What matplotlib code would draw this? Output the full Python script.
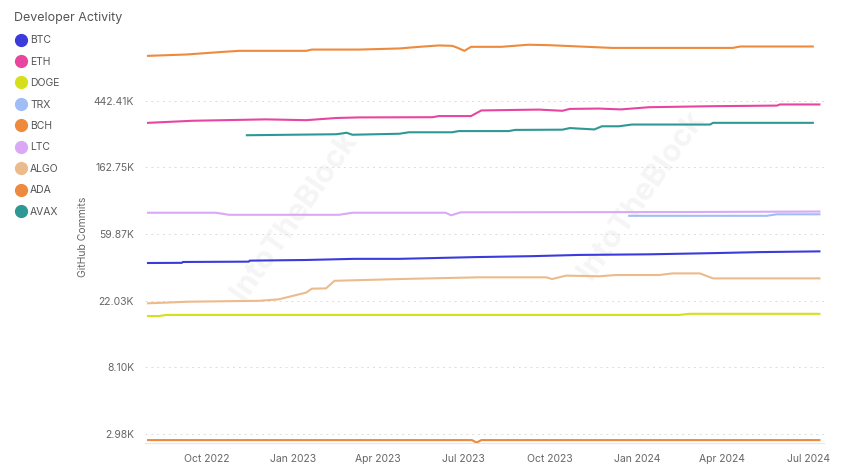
import numpy as np
import pandas as pd
import matplotlib
matplotlib.use("Agg")
from matplotlib import pyplot as plt
import matplotlib.dates as mdates
from matplotlib.lines import Line2D

plt.rcParams['font.family'] = ['Inter', 'DejaVu Sans']

#%% Data (GitHub commits)
btc_dates = ['2022-07-31', '2022-09-05', '2022-09-06', '2022-11-15', '2022-11-16', '2023-01-15',
             '2023-03-07', '2023-04-24', '2023-07-14', '2023-09-12', '2023-11-01', '2024-01-14',
             '2024-03-22', '2024-05-11', '2024-07-13']
btc_vals = [38.8e3, 38.9e3, 39.4e3, 39.6e3, 40.2e3, 40.6e3, 41.3e3, 41.3e3, 42.4e3, 43.0e3,
            43.8e3, 44.2e3, 45.0e3, 45.7e3, 46.2e3]

eth_dates = ['2022-07-31', '2022-09-16', '2022-12-03', '2023-01-15', '2023-02-16', '2023-03-12',
             '2023-05-29', '2023-06-05', '2023-07-09', '2023-07-20', '2023-09-19', '2023-10-14',
             '2023-10-22', '2023-11-22', '2023-12-15', '2024-01-14', '2024-03-19', '2024-05-29',
             '2024-06-01', '2024-07-13']
eth_vals = [318e3, 328e3, 335e3, 331e3, 342e3, 345e3, 346e3, 352e3, 352e3, 383e3, 388e3,
            381e3, 392e3, 394e3, 389e3, 402e3, 408e3, 412e3, 419e3, 419e3]

doge_dates = ['2022-07-31', '2022-08-12', '2022-08-19', '2024-02-15', '2024-02-26', '2024-07-13']
doge_vals = [17.5e3, 17.5e3, 17.8e3, 17.8e3, 18.1e3, 18.1e3]

trx_dates = ['2023-12-24', '2024-05-18', '2024-05-29', '2024-07-13']
trx_vals = [78.8e3, 78.8e3, 80.6e3, 80.6e3]

bch_dates = ['2022-07-31', '2022-09-10', '2022-10-18', '2022-11-05', '2023-01-15', '2023-01-21',
             '2023-03-12', '2023-04-24', '2023-05-15', '2023-06-05', '2023-06-19', '2023-06-24',
             '2023-07-02', '2023-07-09', '2023-08-10', '2023-09-08', '2023-09-30', '2023-12-06',
             '2024-04-12', '2024-04-20', '2024-07-06']
bch_vals = [869e3, 887e3, 922e3, 937e3, 937e3, 955e3, 955e3, 971e3, 995e3, 1016e3, 1010e3,
            985e3, 937e3, 995e3, 995e3, 1027e3, 1020e3, 979e3, 979e3, 1000e3, 1000e3]

ltc_dates = ['2022-07-31', '2022-10-11', '2022-10-25', '2023-02-19', '2023-03-05', '2023-06-12',
             '2023-06-18', '2023-06-28', '2024-02-23', '2024-07-13']
ltc_vals = [82.5e3, 82.5e3, 80.0e3, 80.0e3, 82.5e3, 82.5e3, 79.4e3, 83.0e3, 83.4e3, 84.0e3]

algo_dates = ['2022-07-31', '2022-08-19', '2022-09-10', '2022-11-26', '2022-12-17', '2023-01-15',
              '2023-01-21', '2023-02-05', '2023-02-14', '2023-03-12', '2023-04-24', '2023-07-17',
              '2023-09-27', '2023-10-03', '2023-10-18', '2023-11-22', '2023-12-10', '2024-01-25',
              '2024-02-08', '2024-03-08', '2024-03-22', '2024-07-13']
algo_vals = [21.2e3, 21.4e3, 21.7e3, 22.0e3, 22.5e3, 24.9e3, 26.4e3, 26.5e3, 29.7e3, 30.0e3,
             30.5e3, 31.3e3, 31.3e3, 30.5e3, 32.1e3, 31.8e3, 32.4e3, 32.4e3, 33.2e3, 33.2e3,
             30.8e3, 30.8e3]

ada_dates = ['2022-07-31', '2023-07-10', '2023-07-15', '2023-07-20', '2024-07-13']
ada_vals = [2.72e3, 2.72e3, 2.62e3, 2.72e3, 2.72e3]

avax_dates = ['2022-11-13', '2023-02-16', '2023-02-27', '2023-03-05', '2023-04-24', '2023-05-04',
              '2023-06-19', '2023-06-26', '2023-08-18', '2023-08-25', '2023-10-14', '2023-10-22',
              '2023-11-17', '2023-11-25', '2023-12-13', '2023-12-27', '2024-03-19', '2024-03-22',
              '2024-07-06']
avax_vals = [264e3, 268e3, 274e3, 266e3, 270e3, 276e3, 276e3, 281e3, 281e3, 286e3, 287e3,
             294e3, 288e3, 302e3, 302e3, 310e3, 310e3, 318e3, 318e3]

names = ['BTC', 'ETH', 'DOGE', 'TRX', 'BCH', 'LTC', 'ALGO', 'ADA', 'AVAX']
colors = ['#3b3bdc', '#e8459f', '#d6e01a', '#9fbdf6', '#ef8a3d', '#d9a9f5', '#ecbb8c',
          '#ec8a40', '#2e9894']
series = [(btc_dates, btc_vals), (eth_dates, eth_vals), (doge_dates, doge_vals),
          (trx_dates, trx_vals), (bch_dates, bch_vals), (ltc_dates, ltc_vals),
          (algo_dates, algo_vals), (ada_dates, ada_vals), (avax_dates, avax_vals)]

y_ticks = np.exp(np.arange(8, 14))
y_labels = ['2.98K', '8.10K', '22.03K', '59.87K', '162.75K', '442.41K']

#%% Figure
fig = plt.figure(figsize=(8.54, 4.75), dpi=100)
ax = fig.add_axes([0.170, 0.0674, 0.795, 0.869])

for (d, v), c in zip(series, colors):
    ax.plot(pd.to_datetime(d), v, color=c, linewidth=1.5, zorder=3)

ax.set_yscale('log')
ax.set_ylim(np.exp(7.865), np.exp(14.06))
ax.set_yticks(y_ticks)
ax.set_yticklabels(y_labels)
ax.yaxis.set_minor_locator(plt.NullLocator())
ax.set_xlim(pd.Timestamp('2022-07-28'), pd.Timestamp('2024-07-18'))
ax.xaxis.set_major_locator(mdates.MonthLocator(bymonth=[1, 4, 7, 10]))
ax.xaxis.set_major_formatter(mdates.DateFormatter('%b %Y'))

ax.grid(axis='y', color='#dcdcdc', linestyle=(0, (2, 4)), linewidth=0.7)
for s in ['top', 'right', 'left']:
    ax.spines[s].set_visible(False)
ax.spines['bottom'].set_color('#e8e8e8')
ax.tick_params(length=0, labelsize=7.5, colors='#666666', pad=8)
ax.set_ylabel('GitHub Commits', fontsize=7.5, color='#666666', labelpad=4)

# watermark
for xw, yw in [(0.22, 0.55), (0.73, 0.60)]:
    ax.text(xw, yw, 'IntoTheBlock', transform=ax.transAxes, rotation=55, fontsize=22,
            fontweight='bold', color='#f5f5f5', ha='center', va='center', zorder=0)

# legend
handles = [Line2D([], [], marker='o', linestyle='none', markersize=8.5, markerfacecolor=c,
                  markeredgecolor=c) for c in colors]
fig.legend(handles, names, loc='upper left', bbox_to_anchor=(0.006, 0.995), frameon=False,
           title='Developer Activity', title_fontsize=9, fontsize=7.5, labelspacing=1.1,
           handletextpad=0.3, handlelength=1.2, alignment='left', labelcolor='#555555')
fig.legends[0].get_title().set_color('#555555')

fig.savefig('out.png', dpi=100)
